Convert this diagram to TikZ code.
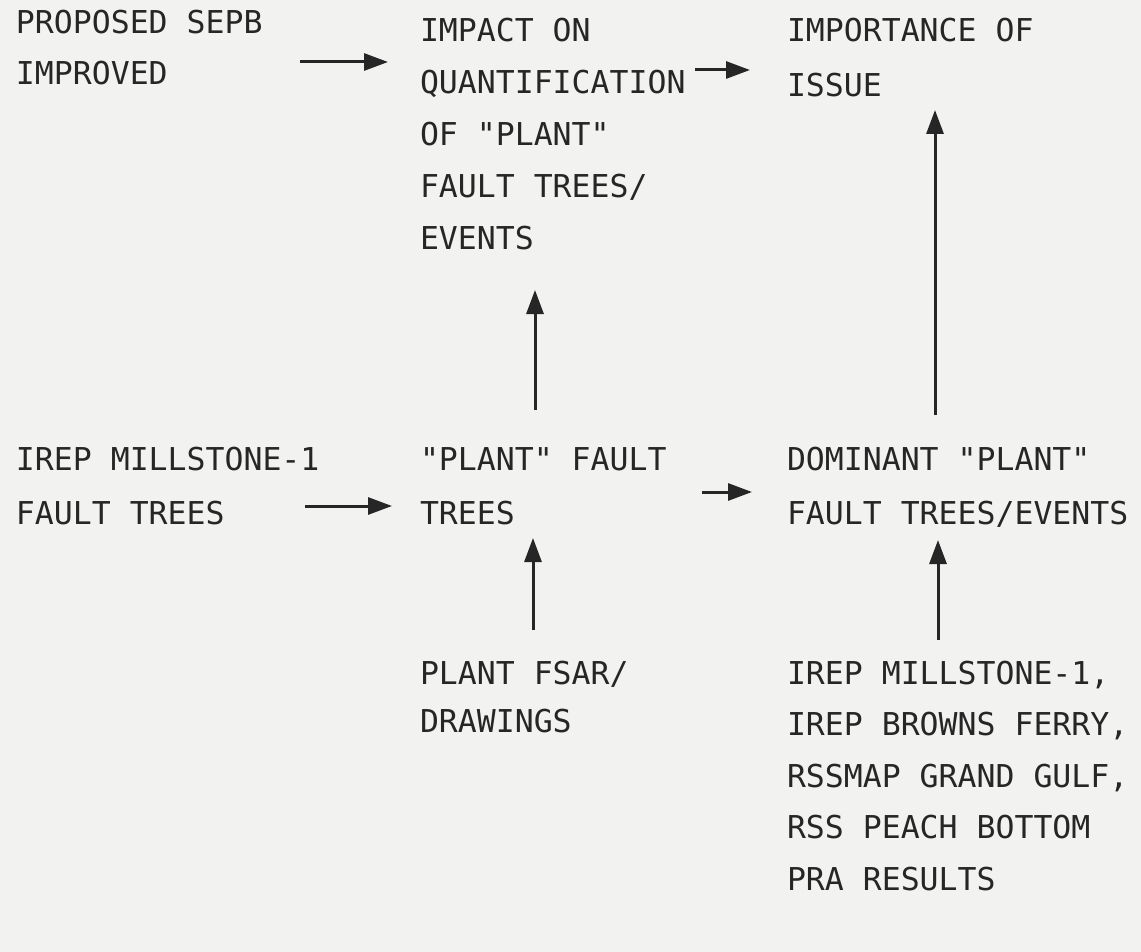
\documentclass[tikz,border=0pt]{standalone}
\usepackage{fontspec}
\newfontfamily\typew{DejaVu Sans Mono}
\usetikzlibrary{arrows.meta,calc}
\definecolor{paper}{RGB}{242,242,240}
\definecolor{ink}{RGB}{38,38,38}
\newcommand\tstack[2]{\vtop{\baselineskip=#1pt\lineskiplimit=-100pt\lineskip=0pt #2}}
\begin{document}
\begin{tikzpicture}[x=1pt,y=-1pt,
  txt/.style={inner sep=0pt,outer sep=0pt,anchor=base west,text=ink,font=\typew\fontsize{31.5}{34}\selectfont},
  arr/.style={draw=ink,line width=3pt,-{Triangle[length=24pt,width=17pt]}}]
\fill[paper] (0,0) rectangle (1141,952);
\useasboundingbox (0,0) rectangle (1141,952);

\node[txt] (prop) at (16,34) {\tstack{51}{\hbox{PROPOSED SEPB}\hbox{IMPROVED}}};
\node[txt] (impact) at (420,42) {\tstack{52}{\hbox{IMPACT ON}\hbox{QUANTIFICATION}\hbox{OF "PLANT"}\hbox{FAULT TREES/}\hbox{EVENTS}}};
\node[txt] (importance) at (787,42) {\tstack{55}{\hbox{IMPORTANCE OF}\hbox{ISSUE}}};
\node[txt] (irep) at (16,470) {\tstack{54}{\hbox{IREP MILLSTONE-1}\hbox{FAULT TREES}}};
\node[txt] (pft) at (420,470) {\tstack{54}{\hbox{"PLANT" FAULT}\hbox{TREES}}};
\node[txt] (dom) at (787,470) {\tstack{54}{\hbox{DOMINANT "PLANT"}\hbox{FAULT TREES/EVENTS}}};
\node[txt] (fsar) at (420,684) {\tstack{48}{\hbox{PLANT FSAR/}\hbox{DRAWINGS}}};
\node[txt] (pra) at (787,684) {\tstack{51.5}{\hbox{IREP MILLSTONE-1,}\hbox{IREP BROWNS FERRY,}\hbox{RSSMAP GRAND GULF,}\hbox{RSS PEACH BOTTOM}\hbox{PRA RESULTS}}};

\draw[arr] ($(prop.base west)+(284,28)$) -- ($(impact.base west)+(-32,20)$);
\draw[arr] ($(impact.base west)+(275,28)$) -- ($(importance.base west)+(-37,28)$);
\draw[arr] ($(pft.base west)+(115,-60)$) -- ($(impact.base west)+(115,248)$);
\draw[arr] ($(dom.base west)+(148,-55)$) -- ($(importance.base west)+(148,68)$);
\draw[arr] ($(irep.base west)+(289,36)$) -- ($(pft.base west)+(-28,36)$);
\draw[arr] ($(pft.base west)+(282,22)$) -- ($(dom.base west)+(-35,22)$);
\draw[arr] ($(fsar.base west)+(113,-54)$) -- ($(pft.base west)+(113,68)$);
\draw[arr] ($(pra.base west)+(151,-44)$) -- ($(dom.base west)+(151,70)$);
\end{tikzpicture}
\end{document}
